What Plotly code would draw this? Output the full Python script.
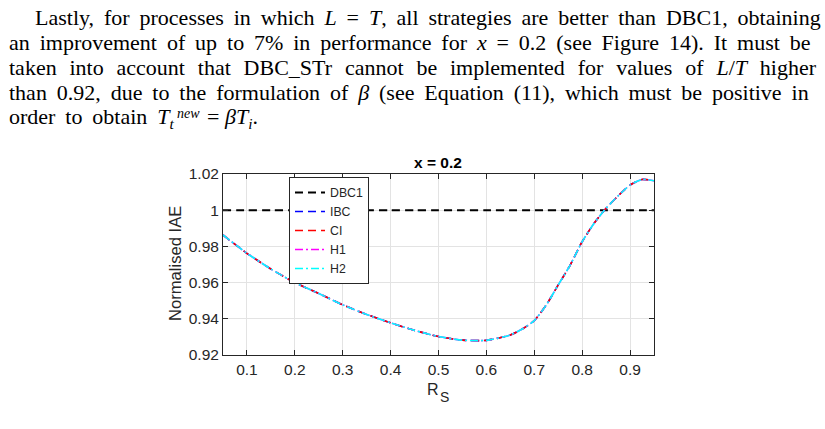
import plotly.graph_objects as go

# ---- data ----
rs = [0.05, 0.10, 0.15, 0.20, 0.25, 0.30, 0.35, 0.40, 0.45, 0.50, 0.55, 0.60,
      0.65, 0.675, 0.70, 0.725, 0.75, 0.775, 0.80, 0.825, 0.85, 0.875, 0.90, 0.925, 0.95]
ibc = [0.9863, 0.9762, 0.9675, 0.9600, 0.9540, 0.9477, 0.9424, 0.9378, 0.9336, 0.9302, 0.9282, 0.9281,
       0.9311, 0.9344, 0.9390, 0.9476, 0.9587, 0.9697, 0.9826, 0.9928, 1.0011, 1.0079, 1.0139, 1.0170, 1.0163]
ci = list(ibc)
h1 = list(ibc)
h2 = list(ibc)
dbc1 = [1.0] * len(rs)

series = [
    ("DBC1", dbc1, "#000000", "8px,5px"),
    ("IBC", ibc, "#0000ff", "8px,5px"),
    ("CI", ci, "#ff0000", "8px,5px"),
    ("H1", h1, "#ff00ff", "8px,3px,2px,3px"),
    ("H2", h2, "#00ffff", "8px,3px,2px,3px"),
]

xticks = [0.1, 0.2, 0.3, 0.4, 0.5, 0.6, 0.7, 0.8, 0.9]
xticklabels = ["0.1", "0.2", "0.3", "0.4", "0.5", "0.6", "0.7", "0.8", "0.9"]
yticks = [0.92, 0.94, 0.96, 0.98, 1.0, 1.02]
yticklabels = ["0.92", "0.94", "0.96", "0.98", "1", "1.02"]

paragraph = [
    "Lastly, for processes in which <i>L</i> = <i>T</i>, all strategies are better than DBC1, obtaining",
    "an improvement of up to 7% in performance for <i>x</i> = 0.2 (see Figure 14). It must be",
    "taken into account that DBC_STr cannot be implemented for values of <i>L</i>/<i>T</i> higher",
    "than 0.92, due to the formulation of <i>β</i> (see Equation (11), which must be positive in",
    "order to obtain <i>T</i><sub><i>t</i></sub>",
]
# extra inter-word space per line (to imitate the justified paragraph)
word_gap = ["\u2009", "\u2009", "\u2004", "\u2009", "\u2009"]
eq_sup = "<i>new</i>"
eq_rest = "= <i>βT</i><sub><i>i</i></sub>."

W, H = 825, 429
L, R, T, B = 223, 171, 174, 74
pw, ph = W - L - R, H - T - B

def px_x(x):
    return (x - L) / pw

def px_y(y):
    return (H - B - y) / ph

fig = go.Figure()
for name, vals, col, dash in series:
    fig.add_trace(go.Scatter(x=rs, y=vals, name=name, mode="lines",
                             line=dict(color=col, dash=dash, width=2 if name == "DBC1" else 1.6,
                                       shape="spline", smoothing=0.6)))

SANS = "Liberation Sans, Arial, sans-serif"
SERIF = "Liberation Serif"
axis_common = dict(showline=True, linecolor="#262626", linewidth=1, mirror="ticks",
                   ticks="inside", ticklen=5, tickcolor="#262626",
                   showgrid=True, gridcolor="#e3e3e3", gridwidth=1, zeroline=False,
                   tickfont=dict(family=SANS, size=15.5, color="#262626"))

fig.update_xaxes(range=[0.05, 0.95], tickvals=xticks, ticktext=xticklabels, **axis_common)
fig.update_yaxes(range=[0.92, 1.02], tickvals=yticks, ticktext=yticklabels, **axis_common)

annotations = []
line_y = [17, 42, 67, 92, 118]
for i, (txt, yy) in enumerate(zip(paragraph, line_y)):
    txt = txt.replace(" ", " " + word_gap[i]) if word_gap[i] else txt
    annotations.append(dict(text=txt, xref="paper", yref="paper",
                            x=px_x(33 if i == 0 else 7), y=px_y(yy),
                            xanchor="left", yanchor="middle", showarrow=False,
                            font=dict(family=SERIF, size=22, color="#000000")))
# superscript of T and the rest of the equation
annotations.append(dict(text=eq_sup, xref="paper", yref="paper", x=px_x(175), y=px_y(113),
                        xanchor="left", yanchor="middle", showarrow=False,
                        font=dict(family=SERIF, size=14, color="#000000")))
annotations.append(dict(text=eq_rest, xref="paper", yref="paper", x=px_x(205), y=px_y(118),
                        xanchor="left", yanchor="middle", showarrow=False,
                        font=dict(family=SERIF, size=22, color="#000000")))

annotations.append(dict(text="Normalised IAE", xref="paper", yref="paper",
                        x=px_x(175), y=px_y(264), textangle=-90, showarrow=False,
                        xanchor="center", yanchor="middle",
                        font=dict(family=SANS, size=16.6, color="#262626")))
annotations.append(dict(text="R", xref="paper", yref="paper",
                        x=px_x(433), y=px_y(389), showarrow=False,
                        xanchor="center", yanchor="middle",
                        font=dict(family=SANS, size=16, color="#262626")))
annotations.append(dict(text="S", xref="paper", yref="paper",
                        x=px_x(444.5), y=px_y(397), showarrow=False,
                        xanchor="center", yanchor="middle",
                        font=dict(family=SANS, size=14, color="#262626")))
annotations.append(dict(text="<b>x = 0.2</b>", xref="paper", yref="paper",
                        x=px_x(438), y=px_y(162), showarrow=False,
                        xanchor="center", yanchor="middle",
                        font=dict(family=SANS, size=15.5, color="#000000")))

fig.update_layout(
    width=W, height=H, autosize=False,
    margin=dict(l=L, r=R, t=T, b=B),
    paper_bgcolor="white", plot_bgcolor="white",
    showlegend=True,
    legend=dict(x=px_x(289), y=px_y(177), xanchor="left", yanchor="top",
                bgcolor="white", bordercolor="#262626", borderwidth=1,
                font=dict(family=SANS, size=12.3, color="#262626"),
                tracegroupgap=0, itemwidth=30),
    annotations=annotations,
)

fig.write_html("out.html")
